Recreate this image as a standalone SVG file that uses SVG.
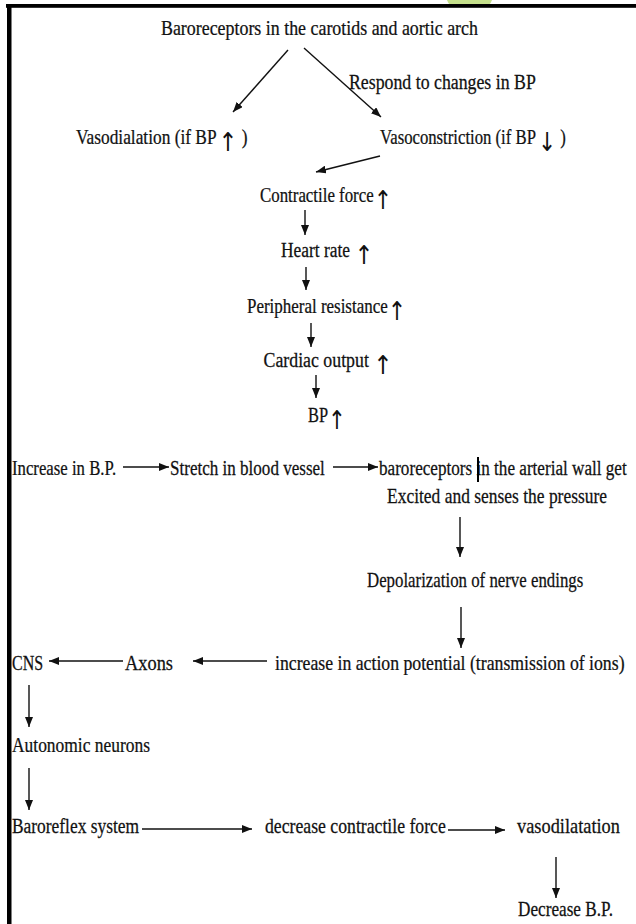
<svg xmlns="http://www.w3.org/2000/svg" width="636" height="924" viewBox="0 0 636 924">
<style>
  text { font-family: "Liberation Serif", "Times New Roman", serif; font-size: 20px; fill: #111; stroke: #111; stroke-width: 0.25; }
  .ar { font-family: "DejaVu Sans", sans-serif; font-size: 26px; stroke-width: 0; }
  .c { fill: none; stroke: #111; stroke-width: 1.4; marker-end: url(#ah); }
</style>
<defs>
  <marker id="ah" markerUnits="userSpaceOnUse" markerWidth="10" markerHeight="8" refX="10" refY="4" orient="auto">
    <path d="M0,0 L10,4 L0,8 z" fill="#111"/>
  </marker>
</defs>
<rect width="636" height="924" fill="#fff"/>
<g id="frame">
  <path d="M447,0 H492 Q490,6 484,7 H455 Q449,6 447,0 Z" fill="#c5e08c"/>
  <rect x="6" y="4" width="630" height="3.8" fill="#000"/>
  <rect x="7" y="4" width="4.5" height="920" fill="#000"/>
</g>
<g id="connectors">
  <path class="c" d="M288,50 L233,112"/>
  <path class="c" d="M304,48 L381,117"/>
  <path class="c" d="M380,156 L316,172"/>
  <path class="c" d="M305,210 V235"/>
  <path class="c" d="M306,267 V290"/>
  <path class="c" d="M311,323 V347"/>
  <path class="c" d="M316,375 V398"/>
  <path class="c" d="M123,467 H169"/>
  <path class="c" d="M333,467 H378"/>
  <path class="c" d="M460,517 V557"/>
  <path class="c" d="M461,607 V648"/>
  <path class="c" d="M267,661 H193"/>
  <path class="c" d="M123,661 H49"/>
  <path class="c" d="M29,685 V727"/>
  <path class="c" d="M29,768 V810"/>
  <path class="c" d="M142,829 H252"/>
  <path class="c" d="M448,830 H505"/>
  <path class="c" d="M556,857 V898"/>
</g>
<g id="n-baroreceptors"><text transform="translate(161,35) scale(0.895,1)">Baroreceptors in the carotids and aortic arch</text></g>
<g id="l-respond"><text transform="translate(349,89) scale(0.89,1)">Respond to changes in BP</text></g>
<g id="n-vasodialation"><text transform="translate(76,144) scale(0.867,1)">Vasodialation (if BP<tspan class="ar" x="164.5" dy="7">↑</tspan><tspan x="186.3" dy="-7"> )</tspan></text></g>
<g id="n-vasoconstriction"><text transform="translate(380,144) scale(0.836,1)">Vasoconstriction (if BP<tspan class="ar" x="188.9" dy="7">↓</tspan><tspan x="210.7" dy="-7"> )</tspan></text></g>
<g id="n-contractile"><text transform="translate(260,202) scale(0.843,1)">Contractile force<tspan class="ar" x="135" dy="7">↑</tspan></text></g>
<g id="n-heartrate"><text transform="translate(281,257) scale(0.87,1)">Heart rate <tspan class="ar" x="84.4" dy="7">↑</tspan></text></g>
<g id="n-peripheral"><text transform="translate(247,313) scale(0.848,1)">Peripheral resistance<tspan class="ar" x="166.1" dy="7">↑</tspan></text></g>
<g id="n-cardiac"><text transform="translate(263.6,367) scale(0.89,1)">Cardiac output <tspan class="ar" x="123.3" dy="7">↑</tspan></text></g>
<g id="n-bp"><text transform="translate(308,422) scale(0.82,1)">BP<tspan class="ar" x="24.5" dy="7">↑</tspan></text></g>
<g id="n-increase"><text transform="translate(12,475) scale(0.837,1)">Increase in B.P.</text></g>
<g id="n-stretch"><text transform="translate(170,475) scale(0.853,1)">Stretch in blood vessel</text></g>
<g id="n-arterial">
  <text transform="translate(379,475) scale(0.857,1)">baroreceptors in the arterial wall get</text>
  <text transform="translate(387,503) scale(0.873,1)">Excited and senses the pressure</text>
  <rect x="477" y="457" width="2" height="25" fill="#000"/>
</g>
<g id="n-depolarization"><text transform="translate(367,587) scale(0.842,1)">Depolarization of nerve endings</text></g>
<g id="n-action"><text transform="translate(275,670) scale(0.887,1)">increase in action potential (transmission of ions)</text></g>
<g id="n-axons"><text transform="translate(125,670) scale(0.92,1)">Axons</text></g>
<g id="n-cns"><text transform="translate(12,670) scale(0.8,1)">CNS</text></g>
<g id="n-autonomic"><text transform="translate(12,752) scale(0.872,1)">Autonomic neurons</text></g>
<g id="n-baroreflex"><text transform="translate(12,833) scale(0.87,1)">Baroreflex system</text></g>
<g id="n-decforce"><text transform="translate(265,833) scale(0.886,1)">decrease contractile force</text></g>
<g id="n-vasodilatation"><text transform="translate(517,833) scale(0.918,1)">vasodilatation</text></g>
<g id="n-decbp"><text transform="translate(518,916) scale(0.86,1)">Decrease B.P.</text></g>
</svg>
